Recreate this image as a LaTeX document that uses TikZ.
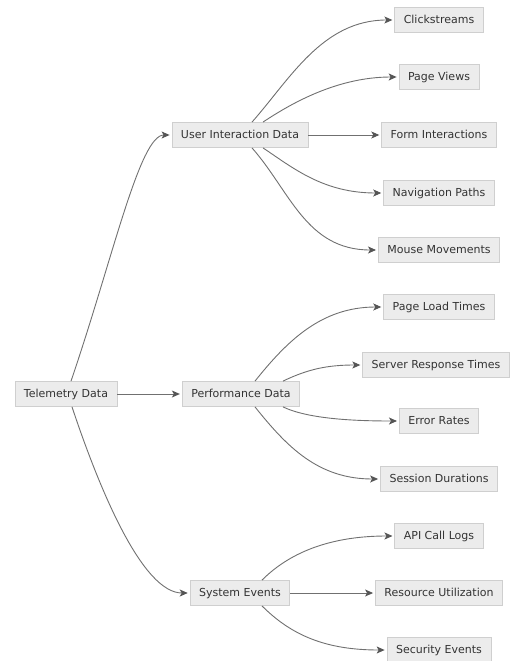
\documentclass[tikz,border=0pt]{standalone}
\usepackage{fontspec}
\setmainfont{DejaVu Sans}
\usetikzlibrary{arrows.meta,calc}
\definecolor{boxfill}{HTML}{ECECEC}
\definecolor{boxline}{HTML}{CFCFCF}
\definecolor{edgecol}{HTML}{707070}
\definecolor{tipcol}{HTML}{555555}
\definecolor{txtcol}{HTML}{333333}
\begin{document}
\begin{tikzpicture}[x=1pt,y=-1pt,
  box/.style={draw=boxline,fill=boxfill,line width=0.8pt,text=txtcol,
    font=\fontsize{11}{13}\selectfont,minimum height=25pt,inner xsep=9pt,
    inner ysep=0pt,text height=8.5pt,text depth=2pt},
  edge/.style={draw=edgecol,line width=0.9pt,shorten >=2pt,
    -{Stealth[length=8pt,width=7pt,inset=2pt,color=tipcol]}}]
\useasboundingbox (0,0) rectangle (519,661);
\node[box] (tel) at (66,394) {Telemetry Data};
\node[box] (perf) at (241,394) {Performance Data};
\node[box] (uid) at (240,135) {User Interaction Data};
\node[box] (sys) at (240,593) {System Events};
\node[box] (click) at (439,20) {Clickstreams};
\node[box] (pv) at (439,77) {Page Views};
\node[box] (form) at (439,135) {Form Interactions};
\node[box] (nav) at (439,193) {Navigation Paths};
\node[box] (mouse) at (439,250) {Mouse Movements};
\node[box] (plt) at (439,307) {Page Load Times};
\node[box] (srt) at (436,365) {Server Response Times};
\node[box] (err) at (439,421) {Error Rates};
\node[box] (ses) at (439,479) {Session Durations};
\node[box] (api) at (439,536) {API Call Logs};
\node[box] (res) at (439,593) {Resource Utilization};
\node[box] (sec) at (439,650) {Security Events};
% level 1
\draw[edge] ($(tel.north)+(5,0)$) .. controls +(42,-123) and +(-32,0) .. (uid.west);
\draw[edge] (tel.east) -- (perf.west);
\draw[edge] ($(tel.south)+(6,0)$) .. controls +(28,84) and +(-47,0) .. (sys.west);
% user interaction
\draw[edge] ($(uid.north)+(12,0)$) .. controls +(38,-43) and +(-72,0) .. (click.west);
\draw[edge] ($(uid.north)+(23,0)$) .. controls +(30,-20) and +(-60,0) .. (pv.west);
\draw[edge] (uid.east) -- (form.west);
\draw[edge] ($(uid.south)+(23,0)$) .. controls +(30,20) and +(-60,0) .. (nav.west);
\draw[edge] ($(uid.south)+(12,0)$) .. controls +(38,43) and +(-72,0) .. (mouse.west);
% performance
\draw[edge] ($(perf.north)+(14,0)$) .. controls +(32,-40) and +(-62,0) .. (plt.west);
\draw[edge] ($(perf.north)+(42,0)$) .. controls +(25,-12) and +(-35,0) .. (srt.west);
\draw[edge] ($(perf.south)+(42,0)$) .. controls +(25,12) and +(-45,0) .. (err.west);
\draw[edge] ($(perf.south)+(14,0)$) .. controls +(32,40) and +(-62,0) .. (ses.west);
% system
\draw[edge] ($(sys.north)+(22,0)$) .. controls +(30,-30) and +(-60,0) .. (api.west);
\draw[edge] (sys.east) -- (res.west);
\draw[edge] ($(sys.south)+(22,0)$) .. controls +(30,30) and +(-60,0) .. (sec.west);
\end{tikzpicture}
\end{document}
